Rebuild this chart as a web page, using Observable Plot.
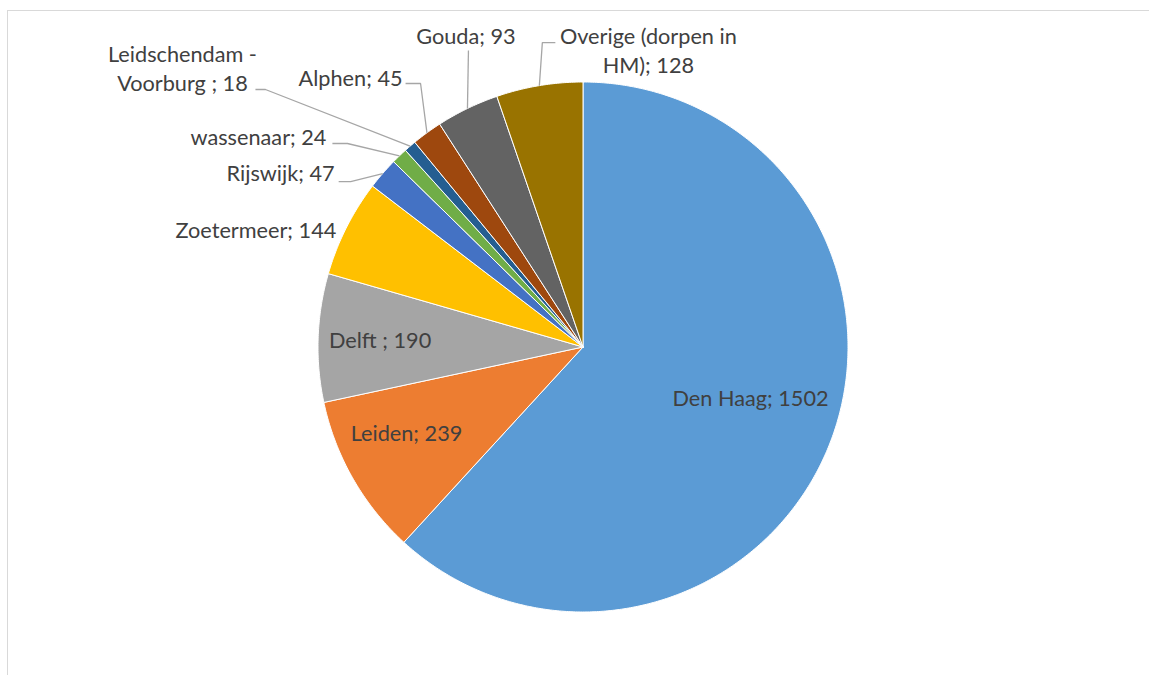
<!DOCTYPE html>
<html><head><meta charset="utf-8">
<script src="https://cdn.jsdelivr.net/npm/d3@7"></script>
<script src="https://cdn.jsdelivr.net/npm/@observablehq/plot@0.6"></script>
<style>
html,body{margin:0;padding:0;background:#fff;overflow:hidden;}
#wrap{position:relative;width:1149px;height:675px;}
#frame{position:absolute;left:7px;top:10px;right:0;bottom:-5px;border-left:1.5px solid #d9d9d9;border-top:1.5px solid #d9d9d9;pointer-events:none;}
</style></head><body>
<div id="wrap"><div id="chart"></div><div id="frame"></div></div>
<script>
// ---- data ----
const categories = ["Den Haag", "Leiden", "Delft ", "Zoetermeer", "Rijswijk", "wassenaar", "Leidschendam - Voorburg ", "Alphen", "Gouda", "Overige (dorpen in HM)"];
const values = [1502, 239, 190, 144, 47, 24, 18, 45, 93, 128];
const colors = ["#5B9BD5", "#ED7D31", "#A5A5A5", "#FFC000", "#4472C4", "#70AD47", "#255E91", "#9E480E", "#636363", "#997300"];

// ---- label layout (pixel nudges relative to the computed slice anchors) ----
const labelLayout = {
  "Den Haag": {inside: true, r: 0.661, da: -4.3},
  "Leiden": {inside: true, r: 0.741, da: 3.8},
  "Delft ": {inside: true, r: 0.766, da: -0.3},
  "Zoetermeer": {elbow: [-6, 9], tick: 0, leader: false, anchor: "end", dx: -4, dy: 1},
  "Rijswijk": {elbow: [-32, 8], tick: -12, anchor: "end", dx: -4, dy: -1},
  "wassenaar": {elbow: [-52, -12.4], tick: -15, anchor: "end", dx: -6, dy: 2},
  "Leidschendam - Voorburg ": {elbow: [-144.6, -56.7], tick: -10, anchor: "middle", dx: -73, dy: 1, wrap: "Leidschendam -"},
  "Alphen": {elbow: [-6.4, -49.3], tick: -15, anchor: "end", dx: -3, dy: 2},
  "Gouda": {elbow: [1, -58], tick: 0, anchor: "middle", dx: -2.5, dy: -7},
  "Overige (dorpen in HM)": {elbow: [3, -43], tick: 13, anchor: "middle", dx: 93, dy: 30, wrap: "dorpen in"}
};

const W = 1149, H = 675, CX = 582.5, CY = 346.5, R = 265;
const total = d3.sum(values);
let acc = 0;
const slices = categories.map((name, i) => {
  const a0 = acc / total * 360; acc += values[i]; const a1 = acc / total * 360;
  return {name, value: values[i], a0, a1, mid: (a0 + a1) / 2};
});
const rad = a => a * Math.PI / 180;
const polar = (a, r) => ({x: r * Math.sin(rad(a)), y: r * Math.cos(rad(a))});

const wedgePts = slices.flatMap(s => {
  const pts = [{name: s.name, x: 0, y: 0}];
  const n = Math.max(2, Math.ceil((s.a1 - s.a0) / 0.5));
  for (let k = 0; k <= n; k++) {
    const p = polar(s.a0 + (s.a1 - s.a0) * k / n, 1);
    pts.push({name: s.name, x: p.x, y: p.y});
  }
  pts.push({name: s.name, x: 0, y: 0});
  return pts;
});

const labels = [], leaders = [];
for (const s of slices) {
  const L = labelLayout[s.name];
  let text = `${s.name}; ${s.value}`;
  if (L.wrap) text = text.replace(L.wrap + " ", L.wrap + "\n");
  if (L.inside) {
    const c = polar(s.mid + L.da, L.r);
    labels.push({name: s.name, text, anchor: "middle", x: c.x, y: c.y - 7.5 / R});
  } else {
    const e = polar(s.mid, 1);
    const el = {x: e.x + L.elbow[0] / R, y: e.y - L.elbow[1] / R};
    const te = {x: el.x + L.tick / R, y: el.y};
    if (L.leader !== false) {
      leaders.push({name: s.name, x: e.x, y: e.y});
      leaders.push({name: s.name, x: el.x, y: el.y});
      if (L.tick) leaders.push({name: s.name, x: te.x, y: te.y});
    }
    labels.push({name: s.name, text, anchor: L.anchor, x: te.x + L.dx / R, y: te.y - L.dy / R});
  }
}

const font = "Lato, 'Open Sans', sans-serif";
const textMarks = ["start", "middle", "end"].map(anchor =>
  Plot.text(labels.filter(d => d.anchor === anchor), {
    x: "x", y: "y", text: "text", textAnchor: anchor, lineAnchor: "bottom",
    lineHeight: 1.33, fontSize: 21.7, fill: "#404040", fontFamily: font
  })
);

const chart = Plot.plot({
  width: W, height: H,
  marginTop: 0, marginRight: 0, marginBottom: 0, marginLeft: 0,
  x: {domain: [(0 - CX) / R, (W - CX) / R], axis: null},
  y: {domain: [(CY - H) / R, CY / R], axis: null},
  color: {domain: categories, range: colors},
  style: {background: "transparent", fontFamily: font},
  marks: [
    Plot.line(wedgePts, {x: "x", y: "y", z: "name", fill: "name", stroke: "white", strokeWidth: 1, strokeLinejoin: "miter"}),
    Plot.line(leaders, {x: "x", y: "y", z: "name", stroke: "#A6A6A6", strokeWidth: 1.3, strokeLinejoin: "miter", strokeLinecap: "butt"}),
    ...textMarks
  ]
});
document.getElementById("chart").appendChild(chart);
</script>
</body></html>
